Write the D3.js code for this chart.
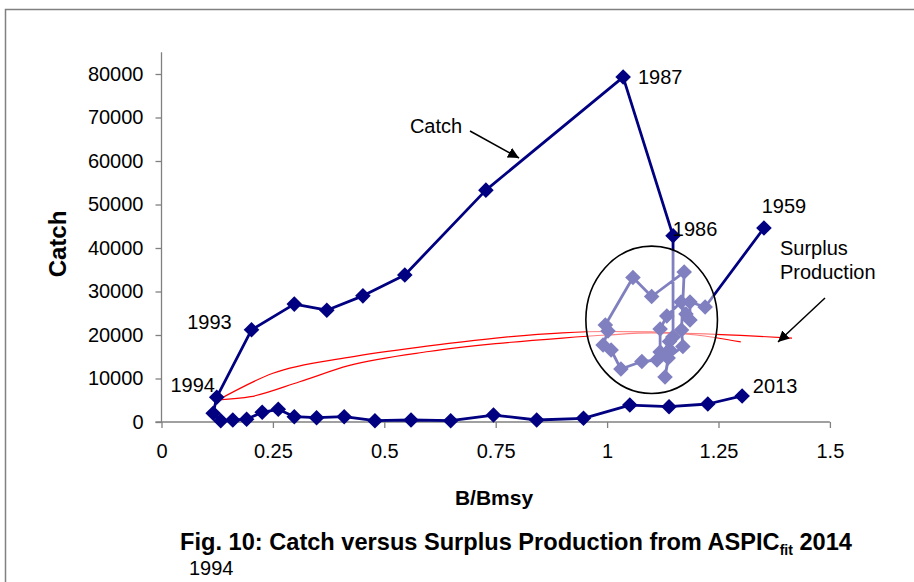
<!DOCTYPE html>
<html>
<head>
<meta charset="utf-8">
<script src="https://cdn.jsdelivr.net/npm/d3@7"></script>
<style>
  html, body { margin: 0; padding: 0; background: #fff; }
  svg { display: block; font-family: "Liberation Sans", Arial, sans-serif; }
</style>
</head>
<body>
<svg id="chart" width="914" height="582"></svg>
<script>
// ---- Data ----
const years = [1959, 1960, 1961, 1962, 1963, 1964, 1965, 1966, 1967, 1968, 1969, 1970, 1971, 1972, 1973, 1974, 1975, 1976, 1977, 1978, 1979, 1980, 1981, 1982, 1983, 1984, 1985,
  1986, 1987, 1988, 1989, 1990, 1991, 1992, 1993, 1994,
  1995, 1996, 1997, 1998, 1999, 2000, 2001, 2002, 2003, 2004, 2005, 2006, 2007, 2008, 2009, 2010, 2011, 2012, 2013];
const bBmsy = [1.352, 1.220, 1.186, 1.186, 1.177, 1.166, 1.134, 1.119, 1.119, 1.141, 1.130, 1.137, 1.170, 1.167, 1.173, 1.100, 1.058, 0.996, 1.002, 0.991, 1.009, 1.031, 1.078, 1.112, 1.148, 1.140, 1.148,
  1.148, 1.036, 0.728, 0.546, 0.452, 0.371, 0.298, 0.202, 0.124,
  0.116, 0.133, 0.160, 0.191, 0.226, 0.262, 0.298, 0.348, 0.410, 0.479, 0.560, 0.649, 0.745, 0.842, 0.947, 1.051, 1.139, 1.226, 1.303];
const catchVals = [44600, 26440, 27590, 23450, 24830, 27590, 24370, 21380, 16090, 16550, 10340, 14710, 17360, 21150, 34480, 28850, 33220, 22300, 20920, 17700, 16550, 12180, 13900, 14250, 19540, 18500, 19540,
  42800, 79300, 53300, 33800, 29000, 25700, 27100, 21200, 5700,
  2000, 300, 460, 620, 2230, 2920, 1220, 990, 1220, 300, 460, 300, 1600, 460, 850, 3900, 3520, 4140, 5980];
const labelYears = [1959, 1986, 1987, 1993, 1994, 2013];

// Surplus production curves
const sp1B = [0.127, 0.25, 0.42, 0.60, 0.75, 0.90, 1.00, 1.10, 1.20, 1.30];
const sp1V = [5060, 11200, 14870, 17500, 19300, 20500, 20800, 20700, 20000, 18400];
const sp2B = [0.127, 0.20, 0.31, 0.42, 0.60, 0.75, 0.90, 1.00, 1.10, 1.20, 1.30, 1.415];
const sp2V = [5060, 5820, 9260, 12950, 16200, 18000, 19300, 20000, 20500, 20300, 19900, 19300];

const xTicks = [0, 0.25, 0.5, 0.75, 1, 1.25, 1.5];
const xTickLabels = ["0", "0.25", "0.5", "0.75", "1", "1.25", "1.5"];
const yTicks = [0, 10000, 20000, 30000, 40000, 50000, 60000, 70000, 80000];

// ---- Drawing ----
const svg = d3.select("#chart");
const navy = "#000080";
const axisGray = "#808080";
const fontSz = "20px";

const x = d3.scaleLinear().domain([0, 1.5]).range([161.5, 829.9]);
const y = d3.scaleLinear().domain([0, 85000]).range([422, 52.25]);

// outer frame
svg.append("path").attr("d", "M5.5,582 L5.5,9.5 L914,9.5")
  .attr("fill", "none").attr("stroke", axisGray).attr("stroke-width", 1.5);

// axes
const yAxis = svg.append("g").attr("transform", `translate(${x(0)},0)`)
  .call(d3.axisLeft(y).tickValues(yTicks).tickSize(6).tickPadding(12).tickFormat(d3.format("d")).tickSizeOuter(0));
const xAxis = svg.append("g").attr("transform", `translate(0,${y(0)})`)
  .call(d3.axisBottom(x).tickValues(xTicks).tickSize(6).tickPadding(16).tickFormat((d, i) => xTickLabels[i]).tickSizeOuter(0));
[yAxis, xAxis].forEach(g => {
  g.select(".domain").attr("stroke", axisGray).attr("stroke-width", 1.3);
  g.selectAll(".tick line").attr("stroke", axisGray).attr("stroke-width", 1.3);
  g.selectAll(".tick text").attr("fill", "#000").style("font-size", fontSz)
    .style("font-family", '"Liberation Sans", Arial, sans-serif');
});
// y axis extends to top of plot range
yAxis.select(".domain").attr("d", `M0,${y(85000)}V${y(0)}`);
// x axis extends left through the y-axis 0 tick
xAxis.select(".domain").attr("d", `M${x(0) - 6},0H${x(1.5)}`);

// surplus production curves
const lineGen = d3.line().curve(d3.curveMonotoneX);
[[sp1B, sp1V], [sp2B, sp2V]].forEach(([bs, vs]) => {
  svg.append("path")
    .attr("d", lineGen(bs.map((b, i) => [x(b), y(vs[i])])))
    .attr("fill", "none").attr("stroke", "#ff0000").attr("stroke-width", 1.2);
});

// catch trajectory
const pts = bBmsy.map((b, i) => [x(b), y(catchVals[i])]);
svg.append("path").attr("d", d3.line()(pts))
  .attr("fill", "none").attr("stroke", navy).attr("stroke-width", 2.8).attr("stroke-linejoin", "round");
const dm = 7.8;
svg.append("g").selectAll("path").data(pts).join("path")
  .attr("d", d => `M${d[0]},${d[1] - dm}L${d[0] + dm},${d[1]}L${d[0]},${d[1] + dm}L${d[0] - dm},${d[1]}Z`)
  .attr("fill", navy);

// highlight ellipse (semi-transparent white)
svg.append("ellipse")
  .attr("cx", x(1.1)).attr("cy", y(23500)).attr("rx", 65.8).attr("ry", 73.7)
  .attr("fill", "#fff").attr("fill-opacity", 0.5)
  .attr("stroke", "#000").attr("stroke-width", 1.6);

// year labels
const labelOffsets = {1959: [20, -22, "middle"], 1986: [22, -7, "middle"], 1987: [37, 0, "middle"],
  1993: [-42, -8, "middle"], 1994: [-24, -12, "middle"], 2013: [33, -10, "middle"]};
labelYears.forEach(yr => {
  const i = years.indexOf(yr);
  const o = labelOffsets[yr];
  svg.append("text").attr("x", pts[i][0] + o[0]).attr("y", pts[i][1] + o[1])
    .attr("text-anchor", o[2]).attr("dominant-baseline", "central")
    .style("font-size", fontSz).text(yr);
});

// annotations
const defs = svg.append("defs");
defs.append("marker").attr("id", "arrow").attr("viewBox", "0 0 10 10")
  .attr("refX", 10).attr("refY", 5).attr("markerWidth", 11).attr("markerHeight", 11)
  .attr("markerUnits", "userSpaceOnUse").attr("orient", "auto")
  .append("path").attr("d", "M0,0L10,5L0,10Z").attr("fill", "#000");

svg.append("text").attr("x", 436).attr("y", 126).attr("text-anchor", "middle")
  .attr("dominant-baseline", "central").style("font-size", fontSz).text("Catch");
svg.append("line").attr("x1", 470).attr("y1", 131).attr("x2", 519).attr("y2", 158)
  .attr("stroke", "#000").attr("stroke-width", 1.5).attr("marker-end", "url(#arrow)");

svg.append("text").attr("x", 780).attr("y", 248).attr("dominant-baseline", "central")
  .style("font-size", fontSz).text("Surplus");
svg.append("text").attr("x", 780).attr("y", 272).attr("dominant-baseline", "central")
  .style("font-size", fontSz).text("Production");
svg.append("line").attr("x1", 825).attr("y1", 298).attr("x2", 778).attr("y2", 342)
  .attr("stroke", "#000").attr("stroke-width", 1.5).attr("marker-end", "url(#arrow)");

// axis titles
svg.append("text").attr("transform", "translate(57,244) rotate(-90)")
  .attr("text-anchor", "middle").attr("dominant-baseline", "central")
  .style("font-size", "24px").style("font-weight", "bold").text("Catch");
svg.append("text").attr("x", 494).attr("y", 497).attr("text-anchor", "middle")
  .attr("dominant-baseline", "central").style("font-size", "21px").style("font-weight", "bold").text("B/Bmsy");

// figure caption
const cap = svg.append("text").attr("x", 516).attr("y", 550).attr("text-anchor", "middle")
  .style("font-size", "23.6px").style("font-weight", "bold");
cap.append("tspan").text("Fig. 10: Catch versus Surplus Production from ASPIC");
cap.append("tspan").attr("dy", 5).style("font-size", "14px").text("fit");
cap.append("tspan").attr("dy", -5).text(" 2014");
svg.append("text").attr("x", 189).attr("y", 568).attr("dominant-baseline", "central")
  .style("font-size", "20px").text("1994");
</script>
</body>
</html>
